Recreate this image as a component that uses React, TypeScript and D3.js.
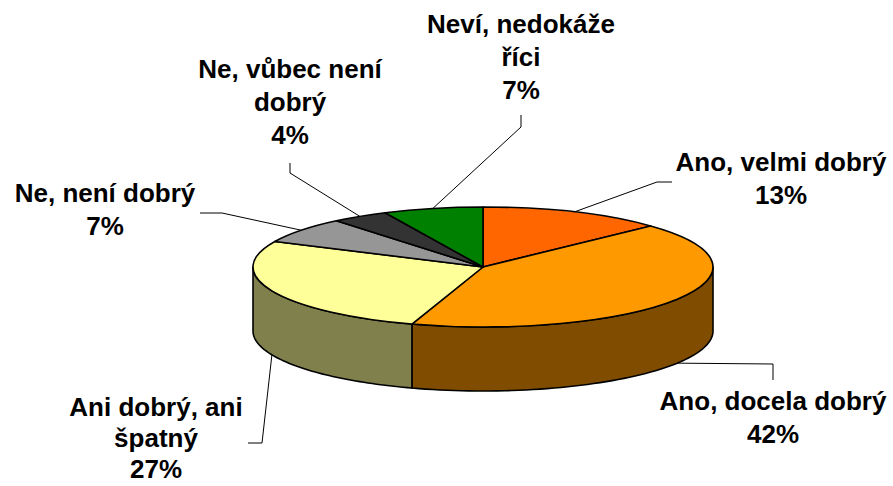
import React from 'react';
import * as d3 from 'd3';

// data, clockwise from 12 o'clock
const categories = [
  ['Ano, velmi dobrý'],
  ['Ano, docela dobrý'],
  ['Ani dobrý, ani', 'špatný'],
  ['Ne, není dobrý'],
  ['Ne, vůbec není', 'dobrý'],
  ['Neví, nedokáže', 'říci'],
];
const values = [13, 42, 27, 7, 4, 7];
const topColors = ['#FF6600', '#FF9900', '#FFFF99', '#969696', '#333333', '#008000'];
const sideColors = ['#803300', '#804C00', '#80804D', '#4B4B4B', '#1A1A1A', '#004000'];

// label layout: centre x, first baseline, line gap, leader bend points (label side)
const labelLayout = [
  { x: 781, y: 171, gap: 33, bend: [[657, 182], [672, 182]] },
  { x: 773, y: 410, gap: 33, bend: [[773, 364], [773, 380]] },
  { x: 156, y: 416, gap: 31, bend: [[262, 443], [248, 443]] },
  { x: 105, y: 202, gap: 33, bend: [[222, 213], [200, 213]] },
  { x: 290, y: 78, gap: 33, bend: [[290, 173], [290, 163]] },
  { x: 521, y: 33, gap: 33, bend: [[521, 127], [521, 115]] },
];

const W = 893;
const H = 486;
const cx = 483;
const cy = 267;
const rx = 230;
const ry = 60;
const depth = 64;

const pt = (a: number, dy = 0): [number, number] => [
  cx + rx * Math.sin(a),
  cy - ry * Math.cos(a) + dy,
];

export default function App() {
  const arcs = d3.pie<number>().sort(null).value(d => d)(values);
  const topArc = d3.arc<d3.PieArcDatum<number>>().innerRadius(0).outerRadius(rx);
  const line = d3.line();

  const sides = arcs.map((a, i) => {
    const s = Math.max(a.startAngle, Math.PI / 2);
    const e = Math.min(a.endAngle, (3 * Math.PI) / 2);
    if (s >= e) return null;
    const steps = d3.range(0, 61).map(k => s + ((e - s) * k) / 60);
    const pts = [
      ...steps.map(t => pt(t)),
      ...steps.slice().reverse().map(t => pt(t, depth)),
    ];
    return (
      <path
        key={'side' + i}
        d={line(pts) + 'Z'}
        fill={sideColors[i]}
        stroke="#000"
        strokeWidth={1.6}
        strokeLinejoin="round"
      />
    );
  });

  return (
    <svg
      width={W}
      height={H}
      style={{ position: 'absolute', left: 0, top: 0, background: '#fff' }}
      fontFamily="'Liberation Sans', Arial, sans-serif"
    >
      <rect width={W} height={H} fill="#fff" />
      {sides}
      <g transform={`translate(${cx},${cy}) scale(1,${ry / rx})`}>
        {arcs.map((a, i) => (
          <path
            key={'top' + i}
            d={topArc(a) || ''}
            fill={topColors[i]}
            stroke="#000"
            strokeWidth={1.6}
            strokeLinejoin="round"
            vectorEffect="non-scaling-stroke"
          />
        ))}
      </g>
      {arcs.map((a, i) => {
        const mid = (a.startAngle + a.endAngle) / 2;
        const front = mid > Math.PI / 2 && mid < (3 * Math.PI) / 2;
        const anchor = pt(mid, front ? depth : 0);
        const lay = labelLayout[i];
        return (
          <path
            key={'lead' + i}
            d={line([anchor, ...(lay.bend as [number, number][])]) || ''}
            fill="none"
            stroke="#000"
            strokeWidth={1}
          />
        );
      })}
      {arcs.map((a, i) => {
        const lay = labelLayout[i];
        const lines = [...categories[i], `${values[i]}%`];
        return (
          <text
            key={'lab' + i}
            x={lay.x}
            y={lay.y}
            textAnchor="middle"
            fontSize={26}
            fontWeight="bold"
            fill="#000"
          >
            {lines.map((t, k) => (
              <tspan key={k} x={lay.x} y={lay.y + k * lay.gap}>
                {t}
              </tspan>
            ))}
          </text>
        );
      })}
    </svg>
  );
}
